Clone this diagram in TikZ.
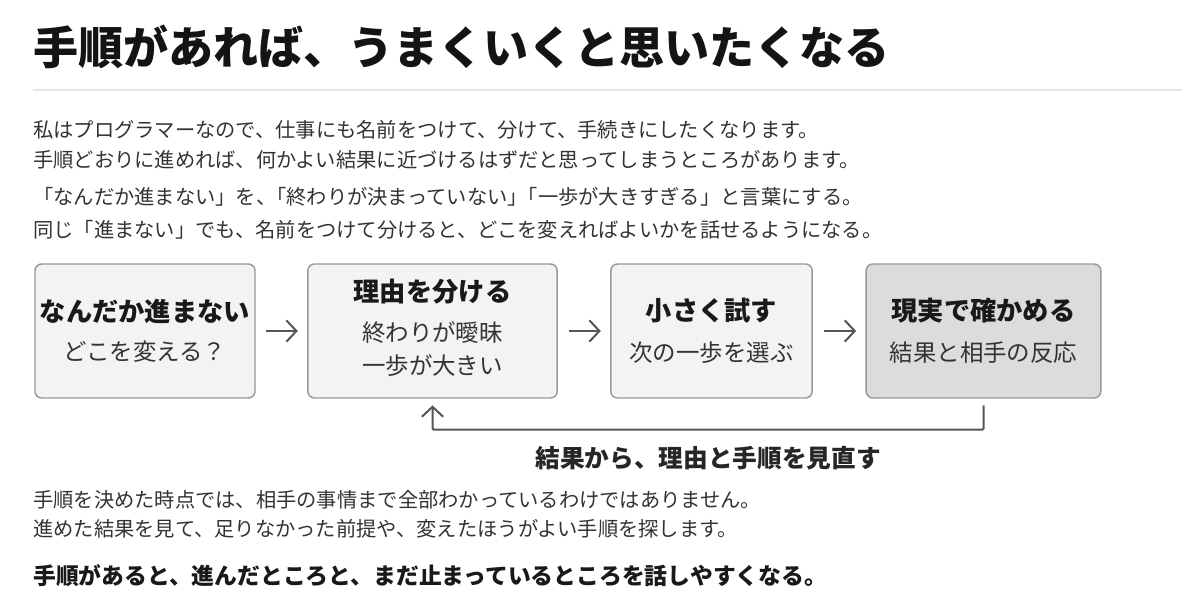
\documentclass[tikz,border=0pt]{standalone}
\usepackage{fontspec}
\setmainfont{Noto Sans CJK JP}
\definecolor{box-fill}{HTML}{F3F3F3}
\definecolor{box-dark}{HTML}{DCDCDC}
\definecolor{box-line}{HTML}{999999}
\definecolor{ink}{HTML}{333333}
\definecolor{rule-gray}{HTML}{E6E6E6}
\definecolor{flow-gray}{HTML}{555555}
\usetikzlibrary{arrows.meta, positioning}
\tikzset{
  stepbox/.style={
    draw=box-line, fill=box-fill, line width=1.1pt, rounded corners=5pt,
    minimum height=100.5pt, inner sep=0pt
  },
  steptitle/.style={
    inner sep=0pt, text=black!90, font=\fontsize{19.7pt}{24pt}\selectfont\bfseries
  },
  stepsub/.style={
    inner sep=0pt, text=ink, font=\fontsize{17.6pt}{21pt}\selectfont
  },
  bodytext/.style={
    anchor=west, inner sep=0pt, text=ink, font=\fontsize{15.2pt}{18pt}\selectfont
  },
  flow/.style={
    draw, -{Straight Barb[length=7.5pt,width=16pt]}, color=flow-gray, line width=1.5pt
  }
}
\begin{document}
\begin{tikzpicture}[x=0.75pt, y=-0.75pt]
        \fill[white] (0,0) rectangle (1200,600);
        \useasboundingbox (0,0) rectangle (1200,600);

        \node[anchor=west, inner sep=0pt, text=black!92, font=\fontsize{33.8pt}{40pt}\selectfont\bfseries] (title) at (33,47) {手順があれば、うまくいくと思いたくなる};
        \draw[rule-gray, line width=1pt] (33,90) -- (1182,90);

        \node[bodytext] (p1) at (33,130) {私はプログラマーなので、仕事にも名前をつけて、分けて、手続きにしたくなります。};
        \node[bodytext] (p2) at (33,160) {手順どおりに進めれば、何かよい結果に近づけるはずだと思ってしまうところがあります。};
        \node[bodytext] (p3) at (33,197) {「なんだか進まない」を、\kern-.5em「終わりが決まっていない」\kern-.5em「一歩が大きすぎる」と言葉にする。};
        \node[bodytext] (p4) at (33,230) {同じ「進まない」でも、名前をつけて分けると、どこを変えればよいかを話せるようになる。};

        \node[stepbox, minimum width=165pt] (s1) at (145,331) {};
        \node[stepbox, minimum width=187pt] (s2) at (432.5,331) {};
        \node[stepbox, minimum width=151pt] (s3) at (711.5,331) {};
        \node[stepbox, minimum width=176pt, fill=box-dark] (s4) at (983.5,331) {};

        \node[steptitle] (s1t) at (145,311) {なんだか進まない};
        \node[stepsub] (s1s) at (145,352) {どこを変える？};
        \node[steptitle] (s2t) at (432.5,292) {理由を分ける};
        \node[stepsub] (s2s) at (432.5,333) {終わりが曖昧};
        \node[stepsub] (s2u) at (432.5,366) {一歩が大きい};
        \node[steptitle] (s3t) at (711.5,311) {小さく試す};
        \node[stepsub] (s3s) at (711.5,353) {次の一歩を選ぶ};
        \node[steptitle] (s4t) at (983.5,311) {現実で確かめる};
        \node[stepsub] (s4s) at (983.5,353) {結果と相手の反応};

        \draw[flow, shorten <=8pt, shorten >=7pt] (s1) -- (s2);
        \draw[flow, shorten <=8pt, shorten >=7pt] (s2) -- (s3);
        \draw[flow, shorten <=8pt, shorten >=7pt] (s3) -- (s4);
        \draw[flow, shorten <=5pt, shorten >=5pt, rounded corners=1pt] (s4.south) -- ++(0,31) -| (s2.south);

        \node[inner sep=0pt, text=black!85, font=\fontsize{18.5pt}{22pt}\selectfont\bfseries] (loop) at (708,458) {結果から、理由と手順を見直す};

        \node[bodytext] (q1) at (33,500) {手順を決めた時点では、相手の事情まで全部わかっているわけではありません。};
        \node[bodytext] (q2) at (33,529) {進めた結果を見て、足りなかった前提や、変えたほうがよい手順を探します。};
        \node[bodytext, text=black!90, font=\fontsize{17.1pt}{20pt}\selectfont\bfseries] (q3) at (33,576) {手順があると、進んだところと、まだ止まっているところを話しやすくなる。};
      \end{tikzpicture}
\end{document}
